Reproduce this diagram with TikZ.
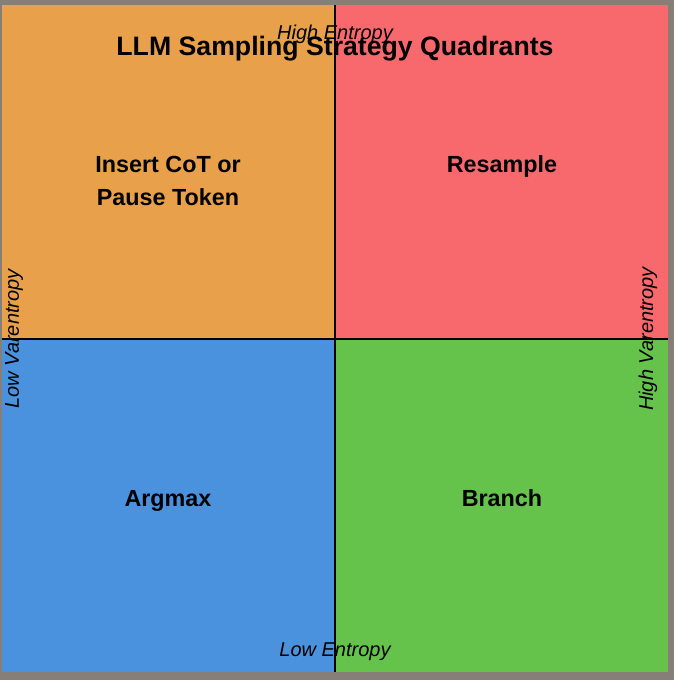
\documentclass[tikz,border=0pt]{standalone}
\usepackage{fontspec}
\setmainfont{Liberation Sans}
\usetikzlibrary{calc}
\definecolor{frame}{HTML}{877E78}
\definecolor{cotorange}{HTML}{E8A14A}
\definecolor{resred}{HTML}{F8696E}
\definecolor{argblue}{HTML}{4A91DE}
\definecolor{brgreen}{HTML}{65C24B}

\begin{document}
\begin{tikzpicture}[x=0.75pt,y=-0.75pt,
  quadlabel/.style={font=\fontsize{17.5}{25}\selectfont\bfseries, align=center},
  axislabel/.style={font=\fontsize{15}{18}\selectfont\itshape}]
\fill[frame] (0,0) rectangle (674,680);
\useasboundingbox (0,0) rectangle (674,680);
% quadrants
\fill[cotorange] (2,5) rectangle (335,339);
\fill[resred] (335,5) rectangle (668,339);
\fill[argblue] (2,339) rectangle (335,672);
\fill[brgreen] (335,339) rectangle (668,672);
% axes
\coordinate (top) at (335,5);
\coordinate (bottom) at (335,672);
\coordinate (left) at (2,339);
\coordinate (right) at (668,339);
\draw[line width=1.2pt] (left) -- (right);
\draw[line width=1.2pt] (top) -- (bottom);
\node[axislabel] (highent) at (335,34) {High Entropy};
\node[font=\fontsize{20}{24}\selectfont\bfseries] (title) at (335,49) {LLM Sampling Strategy Quadrants};
\node[axislabel] (lowent) at (335,652) {Low Entropy};
\node[axislabel, rotate=90] (lowvar) at (14,339) {Low Varentropy};
\node[axislabel, rotate=90] (highvar) at (648,339) {High Varentropy};
% strategies
\node[quadlabel] (cot) at (168,181) {Insert CoT or\\Pause Token};
\node[quadlabel] (resample) at (502,166) {Resample};
\node[quadlabel] (argmax) at (168,501) {Argmax};
\node[quadlabel] (branch) at (502,498) {Branch};
\end{tikzpicture}
\end{document}
